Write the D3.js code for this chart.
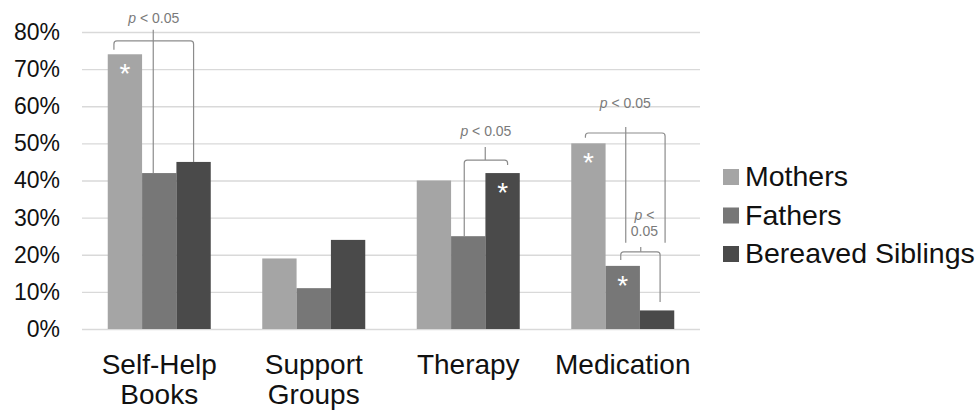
<!DOCTYPE html>
<meta charset="utf-8">
<style>
body { margin: 0; background: #fff; }
text { font-family: "Liberation Sans", Arial, sans-serif; }
.grid line { stroke: #d9d9d9; stroke-width: 1.3px; }
.bracket { fill: none; stroke: #8c8c8c; stroke-width: 1.2px; }
</style>
<body>
<div id="chart"></div>
<script src="https://d3js.org/d3.v7.min.js"></script>
<script>
// categories, one label line per entry
var categories = ["Self-Help Books", "Support Groups", "Therapy", "Medication"];
var categoryLines = [["Self-Help", "Books"], ["Support", "Groups"], ["Therapy"], ["Medication"]];
var seriesNames = ["Mothers", "Fathers", "Bereaved Siblings"];
var mothers = [0.74, 0.19, 0.40, 0.50];
var fathers = [0.42, 0.11, 0.25, 0.17];
var siblings = [0.45, 0.24, 0.42, 0.05];
var yTicks = [0, 0.1, 0.2, 0.3, 0.4, 0.5, 0.6, 0.7, 0.8];
var colors = ["#a5a5a5", "#777777", "#4a4a4a"];

// which bars carry a significance star
var stars = [
  {cat: "Self-Help Books", series: "Mothers"},
  {cat: "Therapy", series: "Bereaved Siblings"},
  {cat: "Medication", series: "Mothers"},
  {cat: "Medication", series: "Fathers"}
];

// significance brackets, in value units
var brackets = [
  {cat: "Self-Help Books", label: ["p < 0.05"], level: 0.776, labelAt: 0.825,
   left: {series: "Mothers", to: 0.752, dx: -11}, right: {series: "Bereaved Siblings", to: 0.45},
   mid: {series: "Fathers", from: 0.806, to: 0.42, dx: -6}},
  {cat: "Therapy", label: ["p < 0.05"], level: 0.455, labelAt: 0.52,
   left: {series: "Fathers", to: 0.25, dx: -4}, right: {series: "Bereaved Siblings", to: 0.442, dx: 5},
   mid: {series: "Fathers", from: 0.49, to: 0.455, dx: 17}},
  {cat: "Medication", label: ["p < 0.05"], level: 0.528, labelAt: 0.596,
   left: {series: "Mothers", to: 0.515, dx: -3}, right: {series: "Bereaved Siblings", to: 0.232, dx: 8},
   mid: {series: "Fathers", from: 0.544, to: 0.232, dx: 3}},
  {cat: "Medication", label: ["p <", "0.05"], level: 0.208, labelAt: 0.294,
   left: {series: "Fathers", to: 0.186, dx: -2}, right: {series: "Bereaved Siblings", to: 0.073, dx: 3},
   mid: {series: "Fathers", from: 0.221, to: 0.208, dx: 18}}
];

var W = 977, H = 411;
var x0 = 82, x1 = 700, yTop = 32, yBot = 329;

var seriesValues = [mothers, fathers, siblings];
var data = categories.map(function(c, i) {
  return {cat: c, values: seriesNames.map(function(s, j) { return {series: s, value: seriesValues[j][i]}; })};
});

var x = d3.scaleBand().domain(categories).range([x0, x1]).paddingInner(1/3).paddingOuter(1/6);
var xs = d3.scaleBand().domain(seriesNames).range([0, x.bandwidth()]);
var y = d3.scaleLinear().domain([0, 0.8]).range([yBot, yTop]);
var color = d3.scaleOrdinal().domain(seriesNames).range(colors);

var svg = d3.select("#chart").append("svg")
  .attr("width", W).attr("height", H);

// gridlines + y labels
var yAxis = svg.append("g")
  .attr("class", "grid")
  .attr("transform", "translate(" + x0 + ",0)")
  .call(d3.axisLeft(y).tickValues(yTicks).tickSize(-(x1 - x0)).tickPadding(22).tickFormat(d3.format(".0%")));
yAxis.select(".domain").remove();
yAxis.selectAll("text")
  .attr("font-size", "23px")
  .attr("fill", "#111")
  .attr("font-family", "Liberation Sans, Arial, sans-serif");

// bars
var groups = svg.selectAll(".cat")
  .data(data)
  .enter().append("g")
  .attr("transform", function(d) { return "translate(" + x(d.cat) + ",0)"; });

groups.selectAll("rect")
  .data(function(d) { return d.values; })
  .enter().append("rect")
  .attr("x", function(d) { return xs(d.series); })
  .attr("width", xs.bandwidth())
  .attr("y", function(d) { return y(d.value); })
  .attr("height", function(d) { return y(0) - y(d.value); })
  .attr("fill", function(d) { return color(d.series); });

// stars
function barCenter(cat, series) { return x(cat) + xs(series) + xs.bandwidth() / 2; }
function valueOf(cat, series) {
  var i = categories.indexOf(cat);
  return seriesValues[seriesNames.indexOf(series)][i];
}
svg.selectAll(".star")
  .data(stars)
  .enter().append("text")
  .attr("class", "star")
  .attr("x", function(d) { return barCenter(d.cat, d.series); })
  .attr("y", function(d) { return y(valueOf(d.cat, d.series)) + 29; })
  .attr("text-anchor", "middle")
  .attr("font-size", "28px")
  .attr("fill", "#fff")
  .text("*");

// brackets
var r = 3;
brackets.forEach(function(b) {
  var lx = barCenter(b.cat, b.left.series) + (b.left.dx || 0);
  var rx = barCenter(b.cat, b.right.series) + (b.right.dx || 0);
  var ly = y(b.level);
  var p = "M" + lx + "," + y(b.left.to) + "V" + (ly + r) +
    "Q" + lx + "," + ly + " " + (lx + r) + "," + ly +
    "H" + (rx - r) +
    "Q" + rx + "," + ly + " " + rx + "," + (ly + r) +
    "V" + y(b.right.to);
  svg.append("path").attr("class", "bracket").attr("d", p);
  var mx = barCenter(b.cat, b.mid.series) + (b.mid.dx || 0);
  svg.append("line").attr("class", "bracket")
    .attr("x1", mx).attr("x2", mx)
    .attr("y1", y(b.mid.from)).attr("y2", y(b.mid.to));
  var cx = (lx + rx) / 2 + (b.label.length > 1 ? 4 : 0);
  var t = svg.append("text")
    .attr("x", cx)
    .attr("y", y(b.labelAt))
    .attr("text-anchor", "middle")
    .attr("font-size", "14px")
    .attr("fill", "#7a7a7a");
  b.label.forEach(function(line, i) {
    var ts = t.append("tspan").attr("x", cx).attr("dy", i ? "1.15em" : 0);
    if (line.charAt(0) === "p") {
      ts.append("tspan").attr("font-style", "italic").text("p");
      ts.append("tspan").text(line.slice(1));
    } else {
      ts.text(line);
    }
  });
});

// x labels
svg.selectAll(".xlab")
  .data(categories)
  .enter().append("text")
  .attr("class", "xlab")
  .attr("text-anchor", "middle")
  .attr("font-size", "28px")
  .attr("fill", "#111")
  .attr("y", 374)
  .each(function(d, i) {
    var el = d3.select(this);
    categoryLines[i].forEach(function(line, k) {
      el.append("tspan").attr("x", x(d) + x.bandwidth() / 2).attr("dy", k ? 30 : 0).text(line);
    });
  });

// legend
var legend = svg.selectAll(".legend")
  .data(seriesNames)
  .enter().append("g")
  .attr("transform", function(d, i) { return "translate(723," + (186 + i * 38.5) + ")"; });
legend.append("rect")
  .attr("x", 0).attr("y", -17).attr("width", 16).attr("height", 16)
  .attr("fill", function(d) { return color(d); });
legend.append("text")
  .attr("x", 22).attr("y", 0)
  .attr("font-size", "28.5px")
  .attr("fill", "#111")
  .text(function(d) { return d; });
</script>
</body>
